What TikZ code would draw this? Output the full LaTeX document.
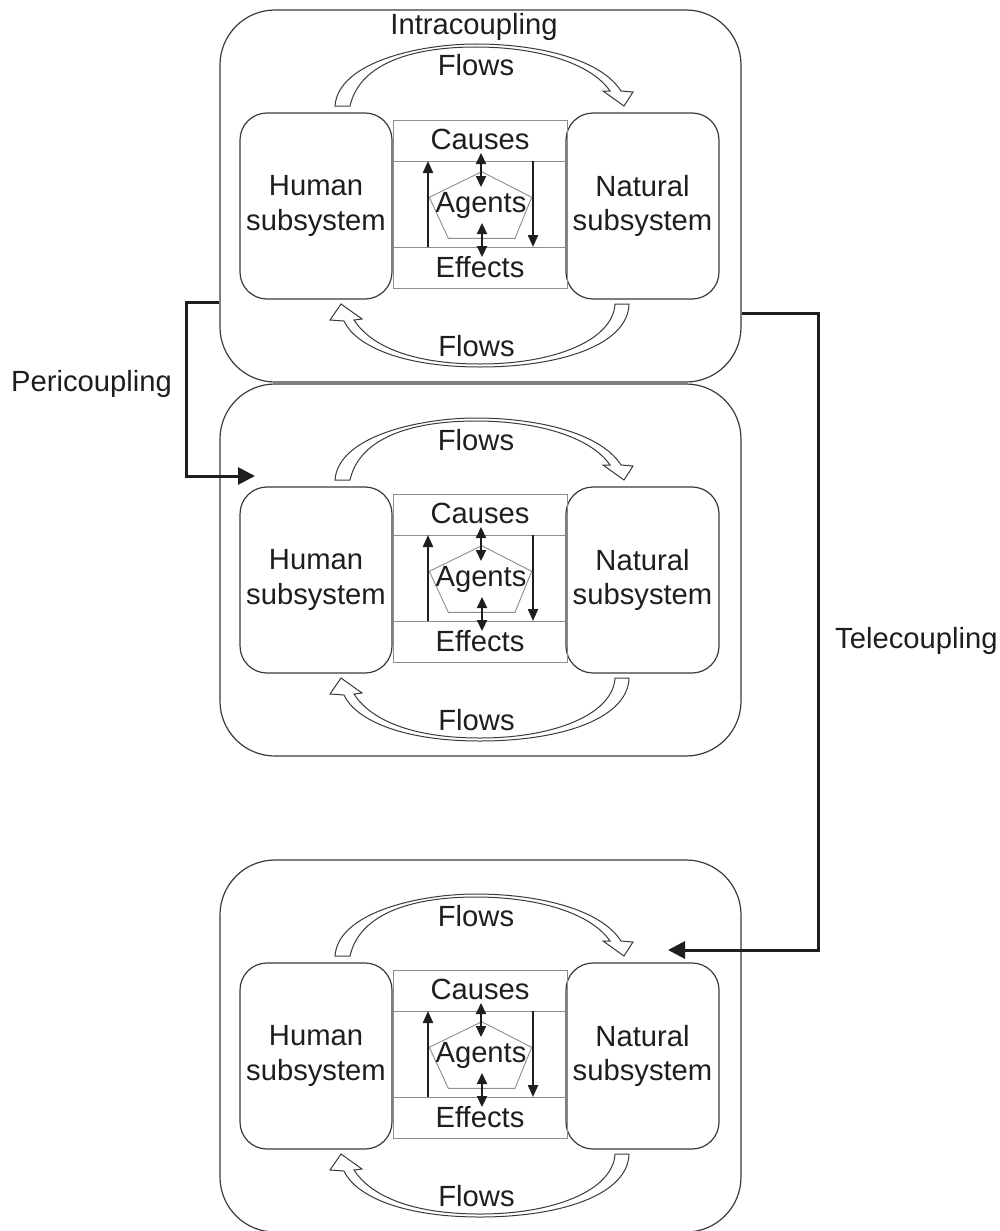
\documentclass[tikz,border=0pt]{standalone}
\usepackage{fontspec}
\setmainfont{Liberation Sans}
\usetikzlibrary{arrows.meta,calc}
\definecolor{linegray}{HTML}{3A3A3A}
\definecolor{boxgray}{HTML}{8C8C8C}
\definecolor{txt}{HTML}{1E1E1E}
\newcommand\lbl{\fontsize{29.2}{34.5}\selectfont}
\begin{document}
\begin{tikzpicture}[x=1pt,y=-1pt,
  outerbox/.style={draw=linegray, line width=1.2pt, rounded corners=55pt,
    minimum width=521pt, minimum height=372pt, inner sep=0pt},
  subbox/.style={draw=linegray, line width=1.2pt, rounded corners=27pt,
    minimum height=186pt, inner sep=0pt, align=center, font=\lbl, text=txt},
  midbox/.style={draw=boxgray, line width=0.9pt, minimum width=174pt,
    minimum height=168pt, inner sep=0pt},
  label/.style={font=\lbl, text=txt, inner sep=0pt, anchor=base},
  flowarrow/.style={draw=linegray, line width=1pt, fill=white},
  penta/.style={draw=boxgray, line width=0.9pt},
  innerarrow/.style={draw=txt, line width=2.2pt, -{Triangle[length=12pt,width=10pt]}},
  innerdouble/.style={draw=txt, line width=2.2pt, {Triangle[length=11pt,width=10pt]}-{Triangle[length=11pt,width=10pt]}},
  conn/.style={draw=txt, line width=3pt, -{Triangle[length=17pt,width=17pt]}}
]
\useasboundingbox (0,0) rectangle (999,1231);

\foreach \i/\dy in {1/0,2/374,3/850}{
\begin{scope}[yshift=-\dy pt]
  \node[outerbox] (outer\i) at (480.5,196) {};
  % flow arrows
  \draw[flowarrow] (335,106) .. controls (338,62) and (420,44) .. (476,44)
     .. controls (535,44) and (600,58) .. (621,91) -- (633,92) -- (624,106)
     -- (603,91) -- (610,91) .. controls (590,62) and (535,47) .. (476,47)
     .. controls (415,47) and (360,62) .. (350,106) -- cycle;
  \draw[flowarrow] (629,304) .. controls (628,345) and (560,367) .. (480,367)
     .. controls (400,367) and (355,345) .. (344,321) -- (330,320) -- (341,304)
     -- (362,319) -- (354,320) .. controls (370,345) and (410,364) .. (480,364)
     .. controls (555,364) and (613,340) .. (615,304) -- cycle;
  \node[label] (flowtop\i) at (476,76) {Flows};
  \node[label] (flowbot\i) at (476.5,356.5) {Flows};
  % subsystems
  \node[subbox, minimum width=152pt] (human\i) at (316,206) {Human\\subsystem};
  \node[subbox, minimum width=153pt] (natural\i) at (642.5,206) {Natural\\subsystem};
  % middle box
  \node[midbox] (mid\i) at (480,204) {};
  \draw[draw=boxgray, line width=0.9pt] (mid\i.west |- 0,161) -- (mid\i.east |- 0,161);
  \draw[draw=boxgray, line width=0.9pt] (mid\i.west |- 0,247) -- (mid\i.east |- 0,247);
  \draw[penta] (481.7,171.7) -- (531.7,197.3) -- (515,238.3) -- (448.3,238.3) -- (429.3,197.3) -- cycle;
  \node[label] (causes\i) at (480,149.5) {Causes};
  \node[label] (agents\i) at (481,212) {Agents};
  \node[label] (effects\i) at (480,277) {Effects};
  \draw[innerarrow] (428,247) -- (428,161);
  \draw[innerarrow] (533,161) -- (533,247);
  \draw[innerdouble] (481,153) -- (481,187);
  \draw[innerdouble] (482,223) -- (482,257);
\end{scope}
}

\node[label] (intra) at (474,34.8) {Intracoupling};
\node[label, anchor=base west] (peri) at (11,391) {Pericoupling};
\node[label, anchor=base west] (tele) at (835,648) {Telecoupling};

\coordinate (pstart) at (outer1.west |- 0,302);
\coordinate (ptip) at (255,476);
\draw[conn] (pstart) -- ++(-33,0) |- (ptip);

\coordinate (tstart) at (outer1.east |- 0,313);
\coordinate (ttip) at (668,950);
\draw[conn] (tstart) -- ++(77,0) |- (ttip);
\end{tikzpicture}
\end{document}
